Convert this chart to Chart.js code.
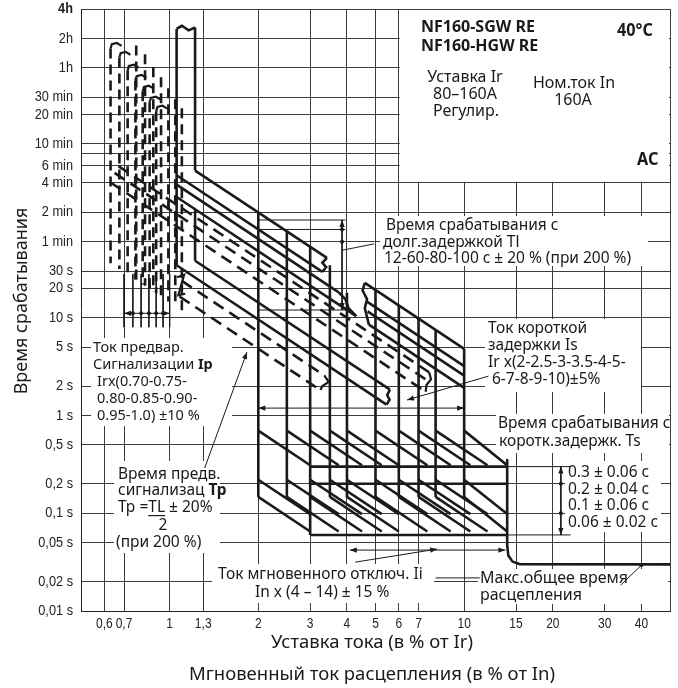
<!DOCTYPE html>
<html>
<head>
<meta charset="utf-8">
<script src="https://cdn.jsdelivr.net/npm/chart.js@4.4.1/dist/chart.umd.min.js"></script>
<style>
  html, body { margin: 0; padding: 0; background: #fff; }
  #wrap { width: 678px; height: 688px; }
</style>
</head>
<body>
<div id="wrap"><canvas id="myChart"></canvas></div>
<script>
// Data  (x = current in multiples of Ir, y = time in seconds)

const xTicks = [0.6, 0.7, 1, 1.3, 2, 3, 4, 5, 6, 7, 10, 15, 20, 30, 40, 50];
const xTickLabels = ["0,6", "0,7", "1", "1,3", "2", "3", "4", "5", "6", "7", "10", "15", "20", "30", "40", ""];
const yTicks = [0.01, 0.02, 0.05, 0.1, 0.2, 0.5, 1, 2, 5, 10, 20, 30, 60, 120, 240, 360, 480, 600, 1200, 1800, 3600, 7200, 14400];
const yTickLabels = ["0,01 s", "0,02 s", "0,05 s", "0,1 s", "0,2 s", "0,5 s", "1 s", "2 s", "5 s", "10 s", "20 s", "30 s",
    "1 min", "2 min", "4 min", "6 min", "", "10 min", "20 min", "30 min", "1h", "2h", "4h"];

// long time delay, solid band outlines
const ltTopWave = [[1.056, 9000], [1.1, 9700], [1.16, 8700], [1.22, 9300]];
const ltLeftEdge = [[1.056, 9000], [1.056, 34.4]];
const ltRightEdge = [[1.22, 9300], [1.22, 320]];
const ltInnerEdge = [[1.22, 129], [1.22, 38.3]];
const lt120a = [[1.22, 320], [3.42, 41]];
const lt80a = [[1.056, 287], [3.3, 29.4]];
const lt64a = [[1.056, 230], [3.75, 18.2]];
const lt48a = [[1.056, 172], [4.3, 10.4]];
const ltCapA = [[3.42, 41], [3.3, 36.5], [3.4, 33], [3.3, 29.4]];
const ltCapB = [[3.75, 18.2], [3.95, 15.5], [4.05, 12.5], [4.3, 10.4]];
const lt120b = [[4.6, 22.7], [10, 4.8]];
const lt80b = [[4.65, 14.8], [10, 3.2]];
const lt64b = [[4.7, 11.6], [10, 2.56]];
const lt48b = [[4.75, 8.5], [10, 1.92]];
const ltCapC = [[4.6, 22.7], [4.52, 19], [4.68, 15.5], [4.6, 12.5], [4.75, 8.5]];
const lt14 = [[1.22, 38.3], [5.6, 1.84]];
const lt9 = [[1.056, 34.4], [5.45, 1.29]];
const ltCapD = [[5.6, 1.84], [5.48, 1.62], [5.58, 1.45], [5.45, 1.29]];

// short time delay
const stX = [2, 2.5, 3, 3.5, 4, 5, 6, 7, 8, 10];
const stTop = [120, 76.8, 53.3, 34.5, 18, 19.2, 13.3, 9.8, 7.5, 4.8];
const stBottom = [0.147, 0.147, 0.06, 0.147, 0.147, 0.147, 0.147, 0.147, 0.147, 0.147];
const stRampX1 = [3, 3.75, 4.5, 5.25, 6, 7.5, 9, 10.5, 12, 14];
const stRampT0 = [0.7, 0.22, 0.147];
const stRampT1 = [0.31, 0.098, 0.065];
const stBandT = [0.3, 0.2, 0.06];
const stBandX = [3, 14];

// instantaneous + max total trip time
const instLine = [[14, 0.35], [14, 0.047], [14.12, 0.037], [14.6, 0.032], [15.4, 0.0302], [50, 0.03]];

// pre-alarm (dashed)
const paLeft = [0.63, 0.675, 0.72, 0.765, 0.81, 0.855, 0.9];
const paRight = [0.77, 0.825, 0.88, 0.935, 0.99, 1.045, 1.1];
const paTop = [6100, 4950, 3650, 2880, 2230, 1720, 1390];
const paBottomLeft = [36, 31.6, 27.8, 24.6, 21.9, 19.7, 17.8];
const paBottomRight = [24.3, 21.2, 18.6, 16.5, 14.7, 13.2, 11.9];
const paDiagonals = [
    [[0.67, 356], [7.6, 2.77]],
    [[0.65, 303], [7.5, 2.28]],
    [[0.63, 242], [7.4, 1.75]],
    [[1.1, 23.8], [3.35, 2.57]],
    [[1.08, 16.5], [3.25, 1.82]],
];
const paCaps = [
    [[7.6, 2.77], [7.72, 2.35], [7.45, 2.05], [7.4, 1.75]],
    [[1.06, 26], [1.12, 27.5], [1.07, 17], [1.13, 17.6]],
    [[3.35, 2.57], [3.47, 2.2], [3.3, 2.0], [3.25, 1.82]],
];

// annotation lines
const tlDim = [[3.85, 100], [3.85, 12]];
const tlExtT = [100, 80, 12];
const tlDots = [[3.85, 80], [3.85, 60]];
const tlPointer = [[3.85, 49], [4.95, 57]];
const ipX = [0.7, 0.75, 0.8, 0.85, 0.9, 0.95, 1.0];
const ipDim = [[0.7, 11.1], [1.0, 11.1]];
const tpPointer = [[1.315, 0.29], [1.83, 4.45]];
const isPointer = [[12.1, 2.53], [6.4, 1.44]];
const isDim = [[2, 1.19], [10, 1.19]];
const tsDim = [[21.3, 0.3], [21.3, 0.06]];
const tsDots = [[21.3, 0.2], [21.3, 0.1]];
const tsExt = [[[14, 0.3], [23, 0.3]], [[14, 0.06], [23, 0.06]]];
const iiDim = [[4.09, 0.042], [13.8, 0.042]];
const iiPointer = [[4.27, 0.0316], [8.1, 0.043]];
const maxLeader = [[8.0, 0.0218], [11.3, 0.0218]];
const maxPointer = [[34, 0.0184], [40, 0.0295]];

// Setup

const INK = "#1a1a1a";
const SANS = "'Noto Sans', 'DejaVu Sans', sans-serif";
const TICKFONT = "'Liberation Sans', Arial, sans-serif";

const toPts = (arr) => arr.map(([x, y]) => ({x, y}));

function seg(points, opt = {}) {
    return Object.assign({
        data: toPts(points),
        showLine: true,
        fill: false,
        borderColor: INK,
        borderWidth: 2.6,
        pointRadius: 0,
        tension: 0,
        borderCapStyle: "butt",
        borderJoinStyle: "miter",
    }, opt);
}
const thin = (points) => seg(points, {borderWidth: 1});
const dashedV = (points) => seg(points, {borderDash: [10, 6]});
const dashedD = (points) => seg(points, {borderDash: [12, 7]});

let datasets = [];

// solid long time
[ltTopWave, ltLeftEdge, ltRightEdge, ltInnerEdge, lt120a, lt80a, lt64a, lt48a, ltCapA, ltCapB,
    lt120b, lt80b, lt64b, lt48b, ltCapC, lt14, lt9, ltCapD].forEach(p => datasets.push(seg(p)));

// short time verticals, ramps and bands
stX.forEach((x, i) => {
    datasets.push(seg([[x, stTop[i]], [x, stBottom[i]]]));
    stRampT0.forEach((t0, j) => datasets.push(seg([[x, t0], [stRampX1[i], stRampT1[j]]])));
});
stBandT.forEach(t => datasets.push(seg([[stBandX[0], t], [stBandX[1], t]])));
datasets.push(seg(instLine, {borderJoinStyle: "round"}));

// pre-alarm
paLeft.forEach((x, i) => {
    const T = paTop[i];
    datasets.push(dashedV([[x, T * 0.93], [x, paBottomLeft[i]]]));
    datasets.push(dashedV([[paRight[i], T * 1.0], [paRight[i], paBottomRight[i]]]));
    datasets.push(seg([[x, T * 0.93], [x * 1.01, T * 1.03], [x * 1.05, T * 1.06], [x * 1.09, T * 0.99]], {borderWidth: 2.2}));
});
paDiagonals.forEach(p => datasets.push(dashedD(p)));
paCaps.forEach(p => datasets.push(seg(p, {borderWidth: 2.2})));

// annotation lines
datasets.push(thin(tlDim));
tlExtT.forEach(t => datasets.push(thin([[2, t], [3.95, t]])));
datasets.push(thin(tlPointer));
ipX.forEach(x => datasets.push(thin([[x, 28], [x, 8]])));
[ipDim, tpPointer, isPointer, isDim, tsDim, iiDim, iiPointer, maxLeader, maxPointer].forEach(p => datasets.push(thin(p)));
tsExt.forEach(p => datasets.push(thin(p)));

// arrows: [line, which ends]
const arrows = [[tlDim, "both"], [ipDim, "both"], [tpPointer, "end"], [isPointer, "end"], [isDim, "both"],
    [tsDim, "both"], [iiDim, "both"], [iiPointer, "end"]];
const dots = [...tlDots, ...tsDots, [0.75, 11.1], [0.8, 11.1], [0.85, 11.1], [0.9, 11.1], [0.95, 11.1], [40, 0.0295]];

// white areas behind the notes (pixels)
const masks = [
    {x0: "x6", x1: "right", y0: "top", y1: "t240"},
    {x0: 380, x1: 648, y0: 216, y1: 266},
    {x0: 485, x1: 641, y0: 319, y1: 392},
    {x0: 496, x1: 669, y0: 414, y1: 453},
    {x0: 565, x1: 661, y0: 461, y1: 532},
    {x0: 91, x1: 232, y0: 338, y1: 426},
    {x0: 114, x1: 220, y0: 461, y1: 553},
    {x0: 212, x1: 434, y0: 564, y1: 603},
    {x0: 478, x1: 668, y0: 569, y1: 604},
];

// notes
const notes = [
    {t: [["NF160-SGW RE", 1]], x: 421, y: 27, size: 16, bold: true},
    {t: [["NF160-HGW RE", 1]], x: 421, y: 46, size: 16, bold: true},
    {t: [["40°C", 1]], x: 617, y: 31, size: 18, bold: true, sx: 0.9},
    {t: [["AC", 1]], x: 637, y: 160, size: 18, bold: true, sx: 0.9},
    {t: [["Уставка Ir"]], x: 465, y: 77, align: "center", size: 16},
    {t: [["80–160A"]], x: 465, y: 94, align: "center", size: 16},
    {t: [["Регулир."]], x: 466, y: 111, align: "center", size: 16},
    {t: [["Ном.ток In"]], x: 574, y: 83, align: "center", size: 16},
    {t: [["160A"]], x: 573, y: 100, align: "center", size: 16},
    {t: [["Время срабатывания с"]], x: 386, y: 226},
    {t: [["долг.задержкой Tl"]], x: 383, y: 243},
    {t: [["12-60-80-100 c ± 20 % (при 200 %)"]], x: 384, y: 259},
    {t: [["Ток короткой"]], x: 488, y: 329},
    {t: [["задержки Is"]], x: 488, y: 346},
    {t: [["Ir x(2-2.5-3-3.5-4-5-"]], x: 488, y: 363},
    {t: [["6-7-8-9-10)±5%"]], x: 492, y: 380},
    {t: [["Время срабатывания с"]], x: 498, y: 424},
    {t: [["коротк.задержк. Ts"]], x: 499, y: 442},
    {t: [["0.3 ± 0.06 c"]], x: 568, y: 473},
    {t: [["0.2 ± 0.04 c"]], x: 568, y: 490},
    {t: [["0.1 ± 0.06 c"]], x: 568, y: 506},
    {t: [["0.06 ± 0.02 c"]], x: 568, y: 523},
    {t: [["Ток предвар."]], x: 93, y: 348, size: 14.5},
    {t: [["Сигнализации "], ["Ip", 1]], x: 93, y: 365, size: 14.5},
    {t: [["Irx(0.70-0.75-"]], x: 97, y: 382, size: 14.5},
    {t: [["0.80-0.85-0.90-"]], x: 97, y: 399, size: 14.5},
    {t: [["0.95-1.0) ±10 %"]], x: 97, y: 416, size: 14.5},
    {t: [["Время предв."]], x: 118, y: 475},
    {t: [["сигнализац "], ["Tp", 1]], x: 118, y: 491},
    {t: [["Tp ="], ["TL", 0, 1], [" ± 20%"]], x: 118, y: 508},
    {t: [["2"]], x: 163, y: 526, align: "center"},
    {t: [["(при 200 %)"]], x: 116, y: 543},
    {t: [["Ток мгновенного отключ. Ii"]], x: 218, y: 575},
    {t: [["In x (4 – 14) ± 15 %"]], x: 255, y: 593},
    {t: [["Макс.общее время"]], x: 480, y: 578, size: 16},
    {t: [["расцепления"]], x: 480, y: 595, size: 16},
];

// Config

function narrowText(ctx, s, x, y, align, font, sx) {
    ctx.save();
    ctx.translate(x, y);
    ctx.scale(sx, 1);
    ctx.font = font;
    ctx.textAlign = align;
    ctx.fillText(s, 0, 0);
    ctx.restore();
}

const notesPlugin = {
    id: "notes",
    beforeDatasetsDraw(chart) {
        const {ctx, chartArea: a, scales: {x, y}} = chart;
        const v = (k) => k === "x6" ? x.getPixelForValue(6) + 1 : k === "right" ? a.right - 1 :
            k === "top" ? a.top + 1 : k === "t240" ? y.getPixelForValue(240) - 1 : k;
        ctx.save();
        ctx.fillStyle = "#fff";
        masks.forEach(m => ctx.fillRect(v(m.x0), v(m.y0), v(m.x1) - v(m.x0), v(m.y1) - v(m.y0)));
        ctx.restore();
    },
    afterDraw(chart) {
        const {ctx, chartArea: a, scales: {x, y}} = chart;
        const P = ([vx, vy]) => [x.getPixelForValue(vx), y.getPixelForValue(vy)];
        ctx.save();
        ctx.fillStyle = INK;
        ctx.strokeStyle = INK;

        // tick labels, condensed
        ctx.textBaseline = "middle";
        ctx.fillStyle = "#222";
        xTicks.forEach((v, i) => narrowText(ctx, xTickLabels[i], x.getPixelForValue(v), a.bottom + 13, "center", `15px ${TICKFONT}`, 0.8));
        yTicks.forEach((v, i) => {
            const bold = v === 14400;
            narrowText(ctx, yTickLabels[i], a.left - 8, y.getPixelForValue(v), "right", `${bold ? "bold " : ""}15px ${TICKFONT}`, 0.85);
        });
        ctx.fillStyle = INK;

        const head = (from, to) => {
            const [x1, y1] = P(from), [x2, y2] = P(to);
            const ang = Math.atan2(y2 - y1, x2 - x1), L = 7, W = 2.6;
            ctx.beginPath();
            ctx.moveTo(x2, y2);
            ctx.lineTo(x2 - L * Math.cos(ang) + W * Math.sin(ang), y2 - L * Math.sin(ang) - W * Math.cos(ang));
            ctx.lineTo(x2 - L * Math.cos(ang) - W * Math.sin(ang), y2 - L * Math.sin(ang) + W * Math.cos(ang));
            ctx.closePath();
            ctx.fill();
        };
        arrows.forEach(([ln, mode]) => {
            head(ln[0], ln[1]);
            if (mode === "both") head(ln[1], ln[0]);
        });
        dots.forEach(d => {
            const [px, py] = P(d);
            ctx.beginPath();
            ctx.arc(px, py, 2, 0, Math.PI * 2);
            ctx.fill();
        });

        notes.forEach(n => {
            const size = n.size || 15.5;
            const sx = n.sx || 1;
            const fontOf = (b) => `${b || n.bold ? "bold " : ""}${size}px ${SANS}`;
            let total = 0;
            n.t.forEach(([s, b]) => { ctx.font = fontOf(b); total += ctx.measureText(s).width * sx; });
            let cx = n.align === "center" ? n.x - total / 2 : n.x;
            n.t.forEach(([s, b, u]) => {
                ctx.font = fontOf(b);
                const w = ctx.measureText(s).width * sx;
                narrowText(ctx, s, cx, n.y, "left", fontOf(b), sx);
                if (u) ctx.fillRect(cx, n.y + 7, w, 1.2);
                cx += w;
            });
        });

        // axis titles
        ctx.textAlign = "center";
        ctx.font = `18.5px ${SANS}`;
        ctx.fillText("Уставка тока (в % от Ir)", 372, 643);
        ctx.font = `18.5px ${SANS}`;
        ctx.fillText("Мгновенный ток расцепления (в % от In)", 372, 675);
        ctx.save();
        ctx.translate(22, 301);
        ctx.rotate(-Math.PI / 2);
        ctx.font = `18px ${SANS}`;
        ctx.fillText("Время срабатывания", 0, 0);
        ctx.restore();
        ctx.restore();
    }
};

const gridStyle = {color: "#3c3c3c", lineWidth: 1, drawTicks: false};

const config = {
    type: "scatter",
    data: {datasets},
    options: {
        responsive: true,
        maintainAspectRatio: false,
        animation: false,
        layout: {padding: {left: 0, right: 8, top: 9, bottom: 0}},
        plugins: {legend: {display: false}, tooltip: {enabled: false}},
        scales: {
            x: {
                type: "logarithmic",
                min: 0.5,
                max: 50,
                afterBuildTicks: (s) => { s.ticks = xTicks.map(v => ({value: v})); },
                afterFit: (s) => { s.height = 77; },
                grid: gridStyle,
                border: {color: "#222", width: 1},
                ticks: {display: false, autoSkip: false},
            },
            y: {
                type: "logarithmic",
                min: 0.01,
                max: 14400,
                afterBuildTicks: (s) => { s.ticks = yTicks.map(v => ({value: v})); },
                afterFit: (s) => { s.width = 81; },
                grid: gridStyle,
                border: {color: "#222", width: 1},
                ticks: {display: false, autoSkip: false},
            },
        },
    },
    plugins: [notesPlugin],
};

// Render init block

const myChart = new Chart(document.getElementById("myChart"), config);
</script>
</body>
</html>
